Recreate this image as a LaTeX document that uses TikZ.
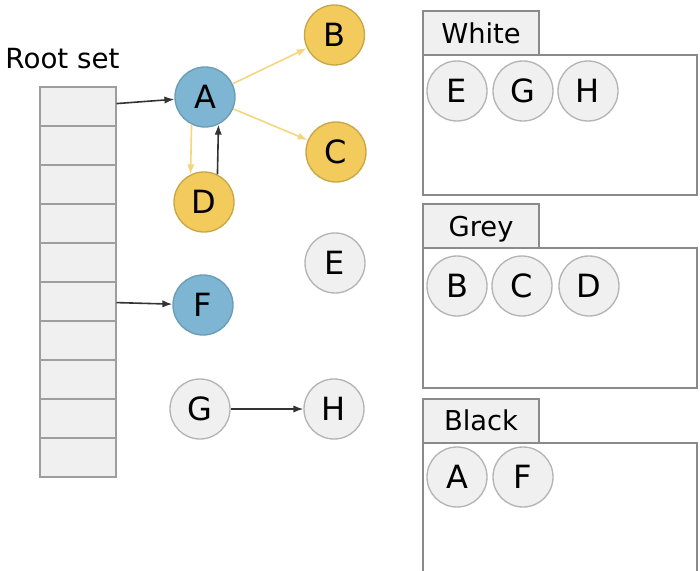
\documentclass[tikz,border=0pt]{standalone}
\usepackage{fontspec}
\setmainfont{DejaVu Sans}
\usetikzlibrary{arrows.meta}

\definecolor{cellfill}{HTML}{F0F0F0}
\definecolor{cellline}{HTML}{9E9E9E}
\definecolor{setline}{HTML}{8A8A8A}
\definecolor{objblue}{HTML}{7DB5D2}
\definecolor{objblueline}{HTML}{6A9CB6}
\definecolor{objyellow}{HTML}{F2CB5C}
\definecolor{objyellowline}{HTML}{C9A645}
\definecolor{objwhiteline}{HTML}{B4B4B4}
\definecolor{scanline}{HTML}{F3D67E}

\tikzset{
  cellbox/.style={draw=cellline, line width=1.5pt, fill=cellfill,
    minimum width=57pt, minimum height=29.25pt, inner sep=0pt},
  obj/.style={circle, line width=1pt, minimum size=45pt, inner sep=0pt,
    font=\fontsize{24}{24}\selectfont},
  whiteobj/.style={obj, draw=objwhiteline, fill=cellfill},
  blueobj/.style={obj, draw=objblueline, fill=objblue},
  yellowobj/.style={obj, draw=objyellowline, fill=objyellow},
  settab/.style={draw=setline, line width=1.5pt, fill=cellfill,
    minimum width=87pt, minimum height=33pt, inner sep=0pt,
    text height=15.5pt, text depth=0pt, font=\fontsize{20.5}{20.5}\selectfont},
  setbox/.style={draw=setline, line width=1.5pt},
  ptr/.style={-{Latex[length=7.5pt,width=5.5pt]}, line width=1.2pt, draw=black!80},
  scan/.style={ptr, draw=scanline}
}

\begin{document}
\begin{tikzpicture}[x=0.75pt,y=0.75pt,yscale=-1,xscale=1]

\clip (0,0) rectangle (700,571);

% root set
\node[anchor=base, font=\fontsize{20.8}{20.8}\selectfont] (rootlbl) at (62.5,68) {Root set};
\foreach \i in {1,...,10}
  \node[cellbox] (c\i) at (77.5,{87+39*(\i-1)+19.5}) {};

% heap objects
\node[blueobj] (A) at (205,97) {A};
\node[yellowobj] (B) at (334.5,35) {B};
\node[yellowobj] (C) at (336,152) {C};
\node[yellowobj] (D) at (204,202) {D};
\node[whiteobj] (E) at (335,263) {E};
\node[blueobj] (F) at (203,305) {F};
\node[whiteobj] (G) at (200,409) {G};
\node[whiteobj] (H) at (334,409) {H};

\draw[ptr] (c1) -- (A);
\draw[ptr] (c6) -- (F);
\draw[scan] (A) -- (B);
\draw[scan] (A) -- (C);
\draw[scan] (A.-116) -- (D.116);
\draw[ptr] (D.64) -- (A.-64);
\draw[ptr] (G) -- (H);

% white set
\draw[setbox] (423,55) rectangle (697,195);
\node[settab] (whitetab) at (481,33) {White};
\node[whiteobj] (wE) at (457,91) {E};
\node[whiteobj] (wG) at (523,91) {G};
\node[whiteobj] (wH) at (588,91) {H};

% grey set
\draw[setbox] (423,248) rectangle (697,388);
\node[settab] (greytab) at (481,226) {Grey};
\node[whiteobj] (gB) at (457,286) {B};
\node[whiteobj] (gC) at (522,286) {C};
\node[whiteobj] (gD) at (589,286) {D};

% black set
\draw[setbox] (423,443) rectangle (697,583);
\node[settab] (blacktab) at (481,420.5) {Black};
\node[whiteobj] (bA) at (457,477) {A};
\node[whiteobj] (bF) at (523,477) {F};

\end{tikzpicture}
\end{document}
